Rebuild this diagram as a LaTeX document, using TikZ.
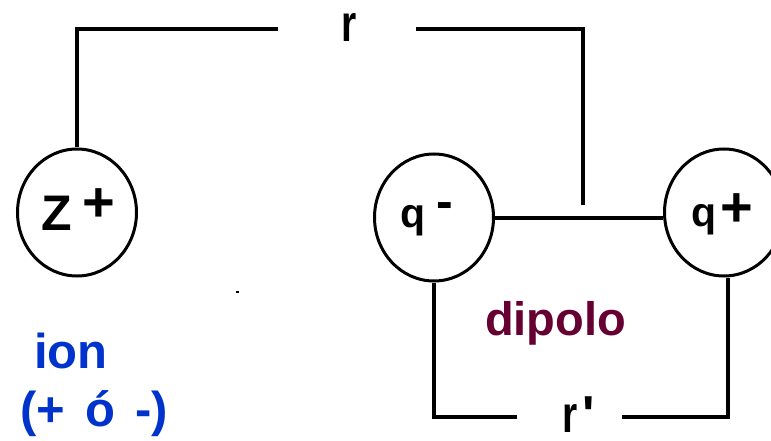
\documentclass[tikz,border=0pt]{standalone}
\usepackage{fontspec}
\setmainfont{Liberation Sans}
\usetikzlibrary{shapes.geometric}
\definecolor{ionblue}{HTML}{0033CC}
\definecolor{dipcol}{HTML}{660033}
\newcommand{\fsz}[1]{\fontsize{#1}{#1}\selectfont}
\begin{document}
\begin{tikzpicture}[x=1pt,y=-1pt,
  charge/.style={ellipse, draw, line width=3pt, minimum width=119pt, minimum height=127pt, inner sep=0pt},
  wire/.style={line width=4pt},
  lbl/.style={inner sep=0pt, anchor=base west}]
\useasboundingbox (0,0) rectangle (771,441);
% charges
\node[charge] (z) at (77,212.5) {};
\node[charge] (qm) at (434,217.5) {};
\node[charge] (qp) at (724,212.5) {};
% charge labels
\node[lbl, font=\bfseries\fsz{50}] (zl) at (41,230) {Z\hspace{11pt}\raisebox{9pt}{\fsz{56}+}};
\node[lbl, font=\bfseries\fsz{41}] (qml) at (400,227) {q\hspace{11.5pt}\raisebox{9pt}{\fsz{50}-}};
\node[lbl, font=\bfseries\fsz{41}] (qpl) at (691,226) {q\hspace{4.7pt}{\fsz{56}+}};
% distance labels
\node[lbl, font=\bfseries\fsz{52}] (rt) at (341.7,42) {\scalebox{0.75}[1]{r}};
\node[lbl, font=\bfseries\fsz{52}] (rp) at (562,432) {\scalebox{0.75}[1]{r}\hspace{5pt}\textquotesingle};
% texts
\node[lbl, text=dipcol, font=\bfseries\fsz{47}] (dip) at (485,335) {dipolo};
\node[lbl, text=ionblue, font=\bfseries\fsz{49}] (ion) at (34,368) {ion};
\node[lbl, text=ionblue, font=\bfseries\fsz{49}] (ion2) at (20,426) {(+\hspace{20pt}ó\hspace{20pt}-)};
% connectors
\coordinate (tl) at (278,29);
\coordinate (tr) at (416,29);
\coordinate (trd) at (583,205);
\coordinate (bl) at (517,417);
\coordinate (br) at (622,417);
\draw[wire] (z.north) |- (tl);
\draw[wire] (tr) -| (trd);
\draw[wire] (qm.east) -- (qm.east -| qp.west);
\draw[wire] (qm.south) |- (bl);
\draw[wire] (br) -| ([xshift=4pt]qp.south);
% stray dot
\fill (236,291) rectangle (239,293);
\end{tikzpicture}
\end{document}
